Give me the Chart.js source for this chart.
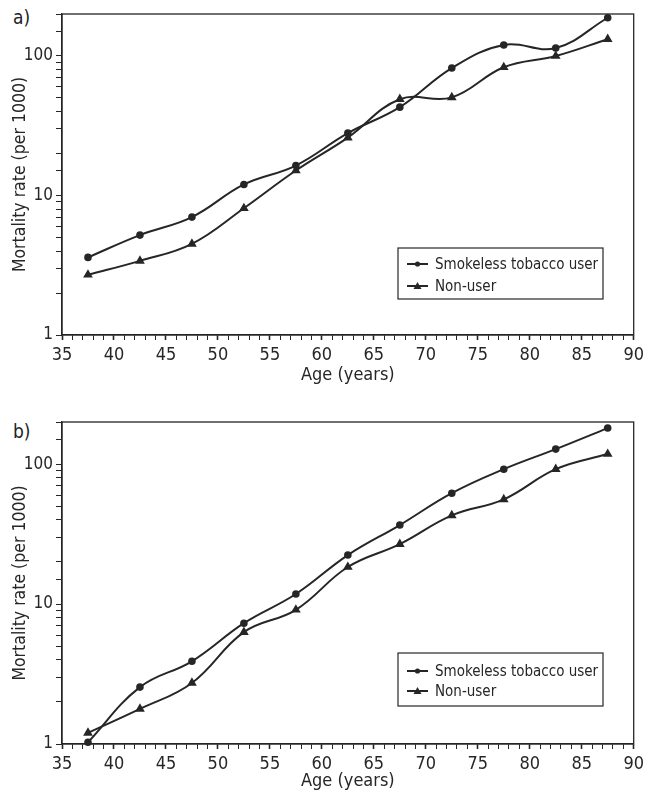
<!DOCTYPE html>
<html>
<head>
<meta charset="utf-8">
<script src="https://cdn.jsdelivr.net/npm/chart.js@4.4.1/dist/chart.umd.min.js"></script>
<style>
  body { margin: 0; background: #fff; width: 649px; height: 794px; overflow: hidden; position: relative; }
  .panel { position: absolute; left: 0; }
  .tag { position: absolute; left: 13px; font: 19px 'DejaVu Sans Condensed', sans-serif; color: #222; }
</style>
</head>
<body>
<div class="tag" style="top:6px">a)</div>
<div class="panel" style="top:0"><canvas id="chartA" width="649" height="392"></canvas></div>
<div class="tag" style="top:420px">b)</div>
<div class="panel" style="top:400px"><canvas id="chartB" width="649" height="394"></canvas></div>
<script>
// data (rate per 1000, log scale)
const ages = [37.5, 42.5, 47.5, 52.5, 57.5, 62.5, 67.5, 72.5, 77.5, 82.5, 87.5];
const userA = [3.6, 5.2, 7.0, 12.0, 16.4, 28, 43, 82, 120, 114, 188];
const nonUserA = [2.7, 3.4, 4.5, 8.1, 15.1, 26, 49, 50.5, 83, 100, 132];
const userB = [1.03, 2.55, 3.9, 7.3, 11.8, 22.4, 36.7, 62, 92, 128, 181];
const nonUserB = [1.2, 1.78, 2.73, 6.3, 9.1, 18.4, 26.8, 43, 56, 92, 118];
const yTickLabels = [1, 10, 100];
const seriesNames = ["Smokeless tobacco user", "Non-user"];

const INK = "#262626";
const FONT = "'DejaVu Sans Condensed', sans-serif";
Chart.defaults.font.family = FONT;
Chart.defaults.color = INK;

// box round the plot area
const frame = {
    id: "frame",
    beforeDatasetsDraw(chart) {
        const { left, top, right, bottom } = chart.chartArea;
        const ctx = chart.ctx;
        ctx.save();
        ctx.strokeStyle = INK;
        ctx.lineWidth = 1.3;
        ctx.strokeRect(left, top, right - left, bottom - top);
        ctx.restore();
    }
};

// legend drawn inside the plot, with a border
const legendBox = {
    id: "legendBox",
    afterDatasetsDraw(chart, args, opts) {
        const ctx = chart.ctx;
        ctx.save();
        ctx.strokeStyle = INK;
        ctx.fillStyle = "#fff";
        ctx.lineWidth = 1.2;
        ctx.fillRect(opts.x, opts.y, opts.w, opts.h);
        ctx.strokeRect(opts.x, opts.y, opts.w, opts.h);
        ctx.font = "15px " + FONT;
        ctx.textBaseline = "middle";
        chart.data.datasets.forEach((ds, i) => {
            const y = opts.y + opts.rowTop + i * opts.rowGap;
            ctx.strokeStyle = INK;
            ctx.lineWidth = 2;
            ctx.beginPath();
            ctx.moveTo(opts.x + 9, y);
            ctx.lineTo(opts.x + 30, y);
            ctx.stroke();
            ctx.fillStyle = INK;
            ctx.beginPath();
            if (ds.pointStyle === "triangle") {
                ctx.moveTo(opts.x + 19.5, y - 4);
                ctx.lineTo(opts.x + 23.5, y + 3);
                ctx.lineTo(opts.x + 15.5, y + 3);
                ctx.closePath();
            } else {
                ctx.arc(opts.x + 19.5, y, 2.6, 0, Math.PI * 2);
            }
            ctx.fill();
            ctx.fillText(ds.label, opts.x + 37, y + 1);
        });
        ctx.restore();
    }
};

function makePanel(id, user, nonUser, padTop, axisH, titleGap, legendPos) {
    const ctx = document.getElementById(id).getContext("2d");
    return new Chart(ctx, {
        type: "line",
        data: {
            datasets: [
                {
                    label: seriesNames[0],
                    data: ages.map((a, i) => ({ x: a, y: user[i] })),
                    borderColor: INK, backgroundColor: INK, borderWidth: 2,
                    pointStyle: "circle", pointRadius: 2.8, tension: 0.4, clip: false
                },
                {
                    label: seriesNames[1],
                    data: ages.map((a, i) => ({ x: a, y: nonUser[i] })),
                    borderColor: INK, backgroundColor: INK, borderWidth: 2,
                    pointStyle: "triangle", pointRadius: 3.6, tension: 0.4, clip: false
                }
            ]
        },
        options: {
            responsive: false,
            animation: false,
            layout: { padding: { top: padTop, right: 15, left: 0, bottom: 0 } },
            plugins: {
                legend: { display: false },
                tooltip: { enabled: false },
                legendBox: legendPos
            },
            scales: {
                x: {
                    type: "linear", min: 35, max: 90,
                    afterFit(s) { s.height = axisH; },
                    grid: {
                        drawOnChartArea: false, tickLength: 5, color: INK,
                        tickWidth: c => (c.tick && c.tick.value % 5 === 0 ? 1.6 : 1)
                    },
                    border: { color: INK, width: 1.3 },
                    ticks: {
                        stepSize: 1, autoSkip: false, maxRotation: 0, padding: 5,
                        font: { size: 18 }, color: INK,
                        callback: v => (v % 5 === 0 ? String(v) : "")
                    },
                    title: {
                        display: true, text: "Age (years)", color: INK,
                        font: { size: 18 }, padding: { top: 0, bottom: titleGap }
                    }
                },
                y: {
                    type: "logarithmic", min: 1, max: 200,
                    afterFit(s) { s.width = 62; },
                    grid: { drawOnChartArea: false, tickLength: 6, color: INK, lineWidth: 1 },
                    border: { color: INK, width: 1.3 },
                    ticks: {
                        autoSkip: false, padding: 3, font: { size: 17 }, color: INK,
                        callback: v => (yTickLabels.includes(v) ? String(v) : "")
                    },
                    title: {
                        display: true, text: "Mortality rate (per 1000)", color: INK,
                        font: { size: 17.5 }, padding: { top: 10, bottom: 0 }
                    }
                }
            }
        },
        plugins: [frame, legendBox]
    });
}

makePanel("chartA", userA, nonUserA, 14, 392 - 335, 6,
    { x: 398, y: 248, w: 205, h: 51, rowTop: 16, rowGap: 22 });
makePanel("chartB", userB, nonUserB, 22, 394 - 344, 2,
    { x: 398, y: 253, w: 205, h: 53, rowTop: 18, rowGap: 20 });
</script>
</body>
</html>
